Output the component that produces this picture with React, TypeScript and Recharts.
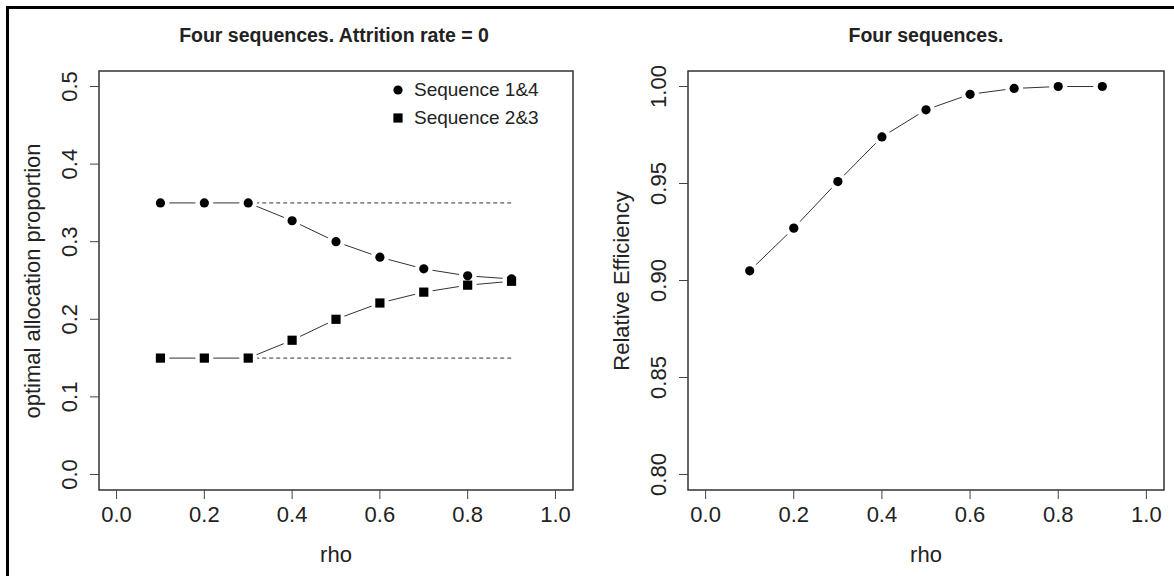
import React from "react";
import { LineChart, Line, XAxis, YAxis, ReferenceArea, ReferenceLine } from "recharts";

const rho = [0.1, 0.2, 0.3, 0.4, 0.5, 0.6, 0.7, 0.8, 0.9];
const seq14 = [0.35, 0.35, 0.35, 0.327, 0.3, 0.28, 0.265, 0.256, 0.252];
const seq23 = [0.15, 0.15, 0.15, 0.173, 0.2, 0.221, 0.235, 0.244, 0.249];
const efficiency = [0.905, 0.927, 0.951, 0.974, 0.988, 0.996, 0.999, 1.0, 1.0];

// dashed reference levels drawn from rho = 0.3 to 0.9
const fixedLevels = [0.35, 0.15];
const fixedFrom = 0.3;
const fixedTo = 0.9;

const xTicks = [0, 0.2, 0.4, 0.6, 0.8, 1.0];
const allocTicks = [0, 0.1, 0.2, 0.3, 0.4, 0.5];
const effTicks = [0.8, 0.85, 0.9, 0.95, 1.0];

const seriesNames = ["Sequence 1&4", "Sequence 2&3"];

const allocData = rho.map((r, i) => ({ rho: r, s14: seq14[i], s23: seq23[i] }));
const effData = rho.map((r, i) => ({ rho: r, eff: efficiency[i] }));

const FONT = "'Liberation Sans', Arial, Helvetica, sans-serif";
const INK = "#222";
const LINE = "#333";
const X_DOMAIN = [-0.04, 1.04];
const ALLOC_DOMAIN = [-0.02, 0.52];
const EFF_DOMAIN = [0.792, 1.008];
const GAP = 9;

const round = (p: any) => <circle key={`c${p.index}`} cx={p.cx} cy={p.cy} r={4.6} fill="#000" />;
const square = (p: any) => (
  <rect key={`s${p.index}`} x={p.cx - 4.6} y={p.cy - 4.6} width={9.2} height={9.2} fill="#000" />
);
// R type="b": white disc under each point so the line stops short of it
const halo = (p: any) => <circle key={`h${p.index}`} cx={p.cx} cy={p.cy} r={GAP} fill="#fff" />;

function vTick(digits: number) {
  return (props: any) => {
    const { x, y, payload } = props;
    return (
      <text
        x={x}
        y={y}
        transform={`rotate(-90 ${x} ${y})`}
        textAnchor="middle"
        fontSize={22}
        fontFamily={FONT}
        fill={INK}
      >
        {Number(payload.value).toFixed(digits)}
      </text>
    );
  };
}

function LegendBox() {
  return (
    <div
      style={{
        position: "absolute",
        left: 390,
        top: 76,
        fontFamily: FONT,
        fontSize: 19,
        color: INK,
        lineHeight: "28px",
      }}
    >
      {seriesNames.map((name, i) => (
        <div key={name} style={{ display: "flex", alignItems: "center", height: 28 }}>
          <svg width={16} height={28} style={{ marginRight: 8 }}>
            {i === 0 ? (
              <circle cx={8} cy={14} r={4.6} fill="#000" />
            ) : (
              <rect x={3.4} y={9.4} width={9.2} height={9.2} fill="#000" />
            )}
          </svg>
          <span>{name}</span>
        </div>
      ))}
    </div>
  );
}

const xAxisProps = {
  type: "number" as const,
  dataKey: "rho",
  domain: X_DOMAIN,
  ticks: xTicks,
  tickFormatter: (v: number) => v.toFixed(1),
  axisLine: false,
  tickLine: { stroke: "#444" },
  tickSize: 9,
  tickMargin: 7,
  height: 80,
  tick: { fontSize: 22, fill: INK, fontFamily: FONT },
  allowDataOverflow: true,
};

function Title({ x, text }: { x: number; text: string }) {
  return (
    <div
      style={{
        position: "absolute",
        left: x,
        top: 35,
        transform: "translate(-50%, -50%)",
        fontFamily: FONT,
        fontWeight: 700,
        fontSize: 19.5,
        color: INK,
        whiteSpace: "nowrap",
      }}
    >
      {text}
    </div>
  );
}

function AxisTitle({ x, y, text, vertical }: { x: number; y: number; text: string; vertical?: boolean }) {
  return (
    <div
      style={{
        position: "absolute",
        left: x,
        top: y,
        transform: `translate(-50%, -50%)${vertical ? " rotate(-90deg)" : ""}`,
        fontFamily: FONT,
        fontSize: 22,
        color: INK,
        whiteSpace: "nowrap",
      }}
    >
      {text}
    </div>
  );
}

// same plot area as the base chart, axes hidden: holds the point markers on top
function MarkerLayer({ data, width, margin, yDomain, keys, marks }: any) {
  return (
    <div style={{ position: "absolute", left: 0, top: 0 }}>
      <LineChart width={width} height={576} data={data} margin={margin}>
        <XAxis type="number" dataKey="rho" domain={X_DOMAIN} hide allowDataOverflow />
        <YAxis type="number" domain={yDomain} hide allowDataOverflow />
        {keys.map((k: string) => (
          <Line key={`h-${k}`} dataKey={k} stroke="none" dot={halo} activeDot={false} isAnimationActive={false} />
        ))}
        {keys.map((k: string, i: number) => (
          <Line key={`m-${k}`} dataKey={k} stroke="none" dot={marks[i]} activeDot={false} isAnimationActive={false} />
        ))}
      </LineChart>
    </div>
  );
}

export default function App() {
  return (
    <div
      style={{
        position: "absolute",
        left: 0,
        top: 0,
        width: 1174,
        height: 576,
        overflow: "hidden",
        background: "#fff",
      }}
    >
      <div
        style={{
          position: "absolute",
          left: 6,
          top: 6,
          width: 1300,
          height: 700,
          border: "3px solid #000",
        }}
      />

      <div style={{ position: "absolute", left: 0, top: 0, width: 600, height: 576 }}>
        <LineChart width={600} height={576} data={allocData} margin={{ top: 71, right: 27, left: 39, bottom: 6 }}>
          <XAxis {...xAxisProps} />
          <YAxis
            type="number"
            domain={ALLOC_DOMAIN}
            ticks={allocTicks}
            axisLine={false}
            tickLine={{ stroke: "#444" }}
            tickSize={9}
            tickMargin={13}
            width={60}
            tick={vTick(1)}
            allowDataOverflow
          />
          <ReferenceArea x1={-0.04} x2={1.04} y1={-0.02} y2={0.52} fill="none" stroke={LINE} strokeWidth={1.5} />
          {fixedLevels.map((lv) => (
            <ReferenceLine
              key={lv}
              segment={[
                { x: fixedFrom, y: lv },
                { x: fixedTo, y: lv },
              ]}
              stroke={LINE}
              strokeWidth={1}
              strokeDasharray="4 3"
            />
          ))}
          <Line dataKey="s14" stroke={LINE} strokeWidth={1} dot={false} activeDot={false} isAnimationActive={false} />
          <Line dataKey="s23" stroke={LINE} strokeWidth={1} dot={false} activeDot={false} isAnimationActive={false} />
        </LineChart>
        <MarkerLayer
          data={allocData}
          width={600}
          margin={{ top: 71, right: 27, left: 99, bottom: 86 }}
          yDomain={ALLOC_DOMAIN}
          keys={["s14", "s23"]}
          marks={[round, square]}
        />
        <LegendBox />
      </div>

      <div style={{ position: "absolute", left: 587, top: 0, width: 587, height: 576 }}>
        <LineChart width={587} height={576} data={effData} margin={{ top: 71, right: 10, left: 41, bottom: 6 }}>
          <XAxis {...xAxisProps} />
          <YAxis
            type="number"
            domain={EFF_DOMAIN}
            ticks={effTicks}
            axisLine={false}
            tickLine={{ stroke: "#444" }}
            tickSize={9}
            tickMargin={13}
            width={60}
            tick={vTick(2)}
            allowDataOverflow
          />
          <ReferenceArea x1={-0.04} x2={1.04} y1={0.792} y2={1.008} fill="none" stroke={LINE} strokeWidth={1.5} />
          <Line dataKey="eff" stroke={LINE} strokeWidth={1} dot={false} activeDot={false} isAnimationActive={false} />
        </LineChart>
        <MarkerLayer
          data={effData}
          width={587}
          margin={{ top: 71, right: 10, left: 101, bottom: 86 }}
          yDomain={EFF_DOMAIN}
          keys={["eff"]}
          marks={[round]}
        />
      </div>

      <Title x={334} text="Four sequences. Attrition rate = 0" />
      <Title x={926} text="Four sequences." />
      <AxisTitle x={336} y={555} text="rho" />
      <AxisTitle x={926} y={555} text="rho" />
      <AxisTitle x={33} y={281} text="optimal allocation proportion" vertical />
      <AxisTitle x={622} y={281} text="Relative Efficiency" vertical />
    </div>
  );
}
